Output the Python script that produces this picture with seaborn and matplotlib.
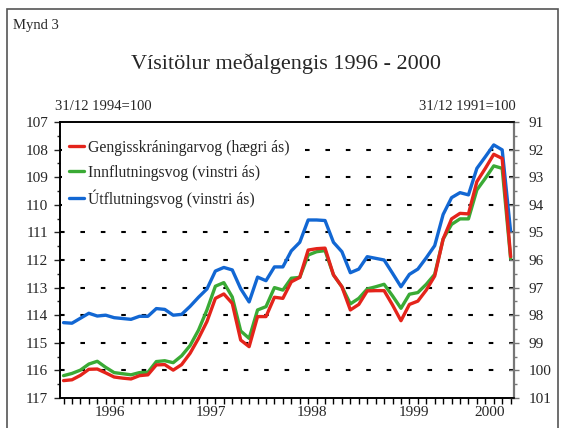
import numpy as np
import pandas as pd
import seaborn as sns
import matplotlib.pyplot as plt
from matplotlib.patches import Rectangle
from matplotlib.ticker import MultipleLocator, FixedLocator, NullFormatter

# monthly indices Jan 1996 - Jun 2000 (54 months)
months = np.arange(54)
year_labels = ["1996", "1997", "1998", "1999", "2000"]
year_centers = [5.5, 17.5, 29.5, 41.5, 50.5]

# Útflutningsvog (left axis, 31/12 1994=100)
utflutningsvog = [114.27, 114.29, 114.11, 113.93, 114.03, 114.00, 114.09, 114.12, 114.15, 114.04,
                  114.04, 113.76, 113.79, 114.00, 113.97, 113.68, 113.35, 113.05, 112.40, 112.27,
                  112.36, 113.04, 113.52, 112.62, 112.75, 112.25, 112.25, 111.67, 111.36, 110.55,
                  110.55, 110.57, 111.36, 111.70, 112.46, 112.33, 111.88, 111.94, 112.00, 112.48,
                  112.97, 112.52, 112.33, 111.92, 111.48, 110.35, 109.74, 109.56, 109.64, 108.68,
                  108.26, 107.83, 108.01, 110.97]

# Innflutningsvog (left axis)
innflutningsvog = [116.19, 116.11, 115.99, 115.77, 115.67, 115.89, 116.08, 116.12, 116.16, 116.08,
                   116.07, 115.68, 115.65, 115.72, 115.47, 115.10, 114.54, 113.81, 112.95, 112.82,
                   113.34, 114.57, 114.84, 113.81, 113.69, 113.00, 113.09, 112.66, 112.63, 111.82,
                   111.70, 111.66, 112.54, 112.97, 113.59, 113.39, 113.05, 112.97, 112.88, 113.30,
                   113.75, 113.24, 113.18, 112.88, 112.52, 111.24, 110.71, 110.51, 110.51, 109.46,
                   109.04, 108.59, 108.68, 111.95]

# Gengisskráningarvog (right axis, 31/12 1991=100)
gengisvog = [100.37, 100.34, 100.18, 99.96, 99.95, 100.09, 100.24, 100.28, 100.31, 100.19,
             100.16, 99.80, 99.79, 99.99, 99.79, 99.38, 98.84, 98.23, 97.39, 97.23,
             97.57, 98.90, 99.14, 98.05, 98.05, 97.35, 97.39, 96.79, 96.63, 95.64,
             95.59, 95.57, 96.54, 96.97, 97.81, 97.61, 97.12, 97.11, 97.11, 97.63,
             98.20, 97.61, 97.49, 97.09, 96.58, 95.24, 94.51, 94.31, 94.33, 93.16,
             92.68, 92.17, 92.32, 95.88]

df = pd.DataFrame({"man": months, "utf": utflutningsvog,
                   "inn": innflutningsvog, "geng": gengisvog})

sns.set_style("white")
plt.rcParams["font.family"] = ["Liberation Serif", "DejaVu Serif"]

RED = "#e4241b"
GREEN = "#3aaa35"
BLUE = "#1267d3"
W, H = 564, 428

fig = plt.figure(figsize=(W / 100, H / 100), dpi=100)
ax = fig.add_axes([60 / W, 1 - 398 / H, 454 / W, 276 / H])
ax2 = ax.twinx()

sns.lineplot(data=df, x="man", y="utf", ax=ax, color=BLUE, lw=2.4,
             label="Útflutningsvog (vinstri ás)", legend=False)
sns.lineplot(data=df, x="man", y="inn", ax=ax, color=GREEN, lw=2.4,
             label="Innflutningsvog (vinstri ás)", legend=False)
sns.lineplot(data=df, x="man", y="geng", ax=ax2, color=RED, lw=2.4,
             label="Gengisskráningarvog (hægri ás)", legend=False)

ax.set_xlim(-0.42, 53.4)
ax.set_ylim(117, 107)
ax2.set_ylim(101, 91)

# dashed gridlines
for v in range(108, 117):
    ax.axhline(v, color="black", lw=1.5, dashes=(2.2, 7.6), zorder=1)

ax.yaxis.set_major_locator(MultipleLocator(1))
ax.yaxis.set_minor_locator(MultipleLocator(0.5))
ax2.yaxis.set_major_locator(MultipleLocator(1))
ax2.yaxis.set_minor_locator(MultipleLocator(0.5))

ax.xaxis.set_major_locator(FixedLocator(year_centers))
ax.set_xticklabels(year_labels)
ax.xaxis.set_minor_locator(FixedLocator(months))
ax.xaxis.set_minor_formatter(NullFormatter())

ax.tick_params(axis="x", which="major", length=0, pad=6, labelsize=11)
ax.tick_params(axis="x", which="minor", direction="out", length=4, width=1, color="black", bottom=True)
ax.tick_params(axis="y", which="major", direction="out", length=4.5, width=1, pad=4, labelsize=11, left=True)
ax.tick_params(axis="y", which="minor", direction="out", length=2.5, width=1, left=True)
ax2.tick_params(axis="y", which="major", direction="inout", length=7, width=1, pad=7,
                labelsize=11, color="#777777", right=True)
ax2.tick_params(axis="y", which="minor", direction="out", length=2.5, width=1,
                color="#777777", right=True)

ax.set_xlabel("")
ax.set_ylabel("")
ax2.set_ylabel("")
for a in (ax, ax2):
    for s in a.spines.values():
        s.set_linewidth(1.2)
        s.set_color("black")
ax2.spines["right"].set_color("#777777")
ax2.spines["right"].set_linewidth(1.6)

h1, l1 = ax.get_legend_handles_labels()
h2, l2 = ax2.get_legend_handles_labels()
leg = ax2.legend(h2 + h1[::-1], l2 + l1[::-1], loc="upper left", bbox_to_anchor=(-0.005, 0.975),
                 frameon=True, facecolor="white", edgecolor="none", framealpha=1,
                 fancybox=False, fontsize=11.3, handlelength=1.0, handletextpad=0.2,
                 labelspacing=0.56, borderpad=0.4, borderaxespad=0.3)

fig.text(13 / W, 1 - 26 / H, "Mynd 3", fontsize=10.5, va="center", ha="left")
fig.text(286 / W, 1 - 64 / H, "Vísitölur meðalgengis 1996 - 2000", fontsize=16,
         va="center", ha="center")
fig.text(55 / W, 1 - 107 / H, "31/12 1994=100", fontsize=10.5, va="center", ha="left")
fig.text(516 / W, 1 - 107 / H, "31/12 1991=100", fontsize=10.5, va="center", ha="right")

fig.patches.append(Rectangle((7 / W, -0.1), 551 / W, 1.1 - 9 / H, transform=fig.transFigure,
                             fill=False, edgecolor="#555555", lw=1.2))

fig.savefig("out.png", dpi=100)
